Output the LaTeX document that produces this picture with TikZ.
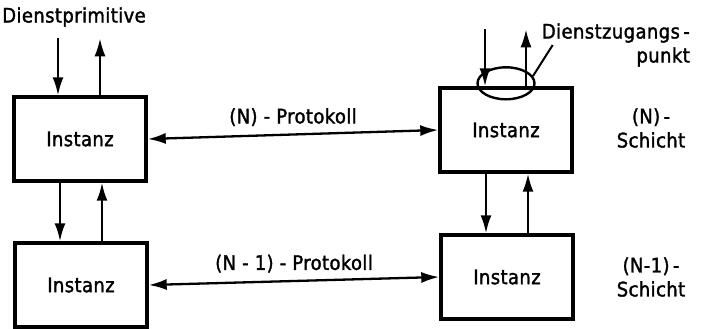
\documentclass[tikz,border=0pt]{standalone}
\usepackage{fontspec}
\setmainfont[LetterSpace=2,FakeBold=1.6]{DejaVu Sans Condensed}
\usetikzlibrary{arrows.meta,shapes.geometric}
\begin{document}
\begin{tikzpicture}[x=1pt,y=-1pt,>={Latex[length=18pt,width=11pt]},
  font=\fontsize{20}{24}\selectfont,
  inst/.style={draw,line width=3.4pt,minimum width=132pt,minimum height=84pt,inner sep=0pt},
  pfeil/.style={->,line width=2.3pt},
  proto/.style={<->,line width=2.3pt}]
\useasboundingbox (0,0) rectangle (701,329);

\node[inst] (lt) at (80,139) {Instanz};
\node[inst] (lb) at (81,285) {Instanz};
\node[inst] (rt) at (506,130) {Instanz};
\node[inst] (rb) at (507,277) {Instanz};

\node (dprim) at (74,17) {Dienstprimitive};
\node (schN) [align=center] at (651,128) {(N)\,-\\Schicht};
\node (schN1) [align=center] at (651,277) {(N-1)\,-\\Schicht};
\node (dza) [align=right,anchor=east,inner sep=0pt] at (690,45) {Dienstzugangs\,-\\punkt};

% Dienstprimitive oben
\coordinate (lt-in) at ([xshift=-22pt,yshift=57pt]lt.north);
\coordinate (lt-out) at ([xshift=20pt,yshift=57pt]lt.north);
\coordinate (rt-in) at ([xshift=-21pt,yshift=57pt]rt.north);
\coordinate (rt-out) at ([xshift=20pt,yshift=57pt]rt.north);
\draw[pfeil] (lt-in) -- (lt-in |- lt.north);
\draw[pfeil] (lt-out |- lt.north) -- (lt-out);
\draw[pfeil] (rt-in) -- (rt-in |- rt.north);
\draw[pfeil] (rt-out |- rt.north) -- (rt-out);

% zwischen den Schichten
\foreach \o/\u in {lt/lb, rt/rb}
{
    \draw[pfeil] ([xshift=-20pt]\o.south) -- ([xshift=-20pt]\o.south |- \u.north);
    \draw[pfeil] ([xshift=22pt]\o.south |- \u.north) -- ([xshift=22pt]\o.south);
}

% Dienstzugangspunkt
\node (sap) [draw,ellipse,line width=2.4pt,minimum width=57pt,minimum height=32pt] at ([yshift=3pt]rt.north) {};
\draw[line width=2pt] (sap.15) -- ([xshift=11pt]dza.west);

% Protokolle
\draw[proto] (lt.east) -- (rt.west) node[midway,above=4pt] {(N) - Protokoll};
\draw[proto] (lb.east) -- (rb.west) node[midway,above=4pt] {(N - 1) - Protokoll};
\end{tikzpicture}
\end{document}
